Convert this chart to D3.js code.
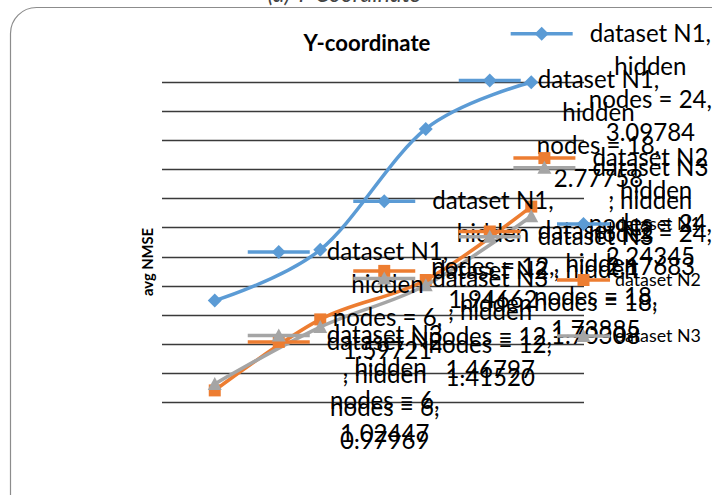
<!DOCTYPE html>
<html><head><meta charset="utf-8">
<script src="https://cdn.jsdelivr.net/npm/d3@7"></script>
<style>
html,body{margin:0;padding:0;background:#fff;}
svg{display:block;}
text{font-family:Lato,"Open Sans",sans-serif;fill:#000;}
</style></head><body>
<svg id="chart" width="712" height="495"></svg>
<script>
// Average NMSE of the Y-coordinate per hidden-layer size
const nodeCounts = [6, 12, 18, 24];
const categories = nodeCounts.map(n => "hidden nodes = " + n);
const seriesNames = ["dataset N1", "dataset N2", "dataset N3"];
const n1Values = [1.59721, 1.94662, 2.77758, 3.09784];
const n2Values = [0.97969, 1.46797, 1.73885, 2.24345];
const n3Values = [1.02447, 1.41520, 1.70308, 2.17683];
const gridValues = [0.9, 1.1, 1.3, 1.5, 1.7, 1.9, 2.1, 2.3, 2.5, 2.7, 2.9, 3.1];
const seriesColors = ["#5B9BD5", "#ED7D31", "#A5A5A5"];
const markerKinds = ["diamond", "square", "triangle"];

const series = seriesNames.map((name, i) => ({
  name, color: seriesColors[i], marker: markerKinds[i],
  values: [n1Values, n2Values, n3Values][i]
}));

const W = 712, H = 495;
const svg = d3.select("#chart");

const x = d3.scaleBand().domain(categories).range([162, 584]).padding(0);
const y = d3.scaleLinear().domain([0.9, 3.1]).range([402, 82]);
const cx = c => x(c) + x.bandwidth() / 2;

// text measuring helper
const probe = svg.append("text").attr("x", -1000).attr("y", -1000);
function measure(str, size, weight) {
  probe.style("font-size", size + "px").style("font-weight", weight || "normal").text(str);
  return probe.node().getComputedTextLength();
}
const labelSize = 24 * 116 / measure("dataset N1", 24);
const legendSize = labelSize * 0.74;
const titleSize = 18 * 127 / measure("Y-coordinate", 18, "bold");
const axisTitleSize = 16 * 68 / measure("avg NMSE", 16, "bold");

// chart frame
svg.append("rect").attr("x", 10.5).attr("y", 7.5).attr("width", W + 20).attr("height", H + 20)
  .attr("rx", 26).attr("fill", "#fff").attr("stroke", "#8c8c8c").attr("stroke-width", 1.2);

// caption running above the frame
svg.append("text").attr("x", 344).attr("y", 2).attr("text-anchor", "middle")
  .style("font-style", "italic").style("font-size", "23px").style("fill", "#444")
  .text("(a) Y-Coordinate");

// title
svg.append("text").attr("x", 367).attr("y", 51).attr("text-anchor", "middle")
  .style("font-weight", "bold").style("font-size", titleSize + "px").text("Y-coordinate");

// value axis title
svg.append("text").attr("transform", "translate(153,262) rotate(-90)").attr("text-anchor", "middle")
  .style("font-weight", "bold").style("font-size", axisTitleSize + "px").text("avg NMSE");

// horizontal gridlines
svg.append("g").selectAll("line").data(gridValues).join("line")
  .attr("x1", x.range()[0]).attr("x2", x.range()[1])
  .attr("y1", d => Math.round(y(d)) + 0.5).attr("y2", d => Math.round(y(d)) + 0.5)
  .attr("stroke", "#3a3a3a").attr("stroke-width", 1.3);

function markerPath(kind) {
  if (kind === "diamond") return "M0,-7L7,0L0,7L-7,0Z";
  if (kind === "square") return "M-6,-6H6V6H-6Z";
  return "M0,-7L7,6H-7Z";
}

const line = d3.line().x(d => cx(d.c)).y(d => y(d.v)).curve(d3.curveCatmullRom.alpha(0));

const gSeries = svg.append("g");
series.forEach(s => {
  const pts = categories.map((c, i) => ({ c, v: s.values[i] }));
  gSeries.append("path").attr("d", line(pts)).attr("fill", "none")
    .attr("stroke", s.color).attr("stroke-width", 3.5).attr("stroke-linejoin", "round");
  gSeries.selectAll(null).data(pts).join("path")
    .attr("transform", d => `translate(${cx(d.c)},${y(d.v)})`)
    .attr("d", markerPath(s.marker)).attr("fill", s.color);
});

function drawKey(g, s, x0, yk, len) {
  g.append("line").attr("x1", x0).attr("x2", x0 + len).attr("y1", yk).attr("y2", yk)
    .attr("stroke", s.color).attr("stroke-width", 3.5);
  g.append("path").attr("transform", `translate(${x0 + len / 2},${yk})`)
    .attr("d", markerPath(s.marker)).attr("fill", s.color);
}

// data labels: legend key + series name, category and value
const lh = 33, keyLen = 62, keyGap = 17;
const gLabels = svg.append("g");
series.forEach((s, si) => {
  categories.forEach((c, ci) => {
    const v = s.values[ci];
    const lines = si === 0
      ? [s.name + ",", "hidden", "nodes = " + nodeCounts[ci] + ",", v.toFixed(5)]
      : [s.name, ", hidden", "nodes = " + nodeCounts[ci] + ",", v.toFixed(5)];
    const widths = lines.map(t => measure(t, labelSize));
    const px = cx(c), py = y(v);
    let center = px + 33 + keyLen + keyGap + widths[0] / 2;
    const half = d3.max(widths) / 2;
    if (center + half > W) center = W - half;
    const textStart = center - widths[0] / 2;
    const keyLeft = textStart - keyGap - keyLen;
    const top = py - 1.5 * lh + 1;
    const g = gLabels.append("g");
    drawKey(g, s, keyLeft, top, keyLen);
    lines.forEach((t, li) => {
      g.append("text").attr("x", li === 0 ? textStart : center)
        .attr("y", top + li * lh + 8)
        .attr("text-anchor", li === 0 ? "start" : "middle")
        .style("font-size", labelSize + "px").text(t);
    });
  });
});

// legend
const gLegend = svg.append("g");
series.forEach((s, i) => {
  const yk = 224 + i * 56;
  drawKey(gLegend, s, 557, yk, 53);
  gLegend.append("text").attr("x", 615).attr("y", yk + 6)
    .style("font-size", legendSize + "px").text(s.name);
});
probe.remove();
</script>
</body></html>
